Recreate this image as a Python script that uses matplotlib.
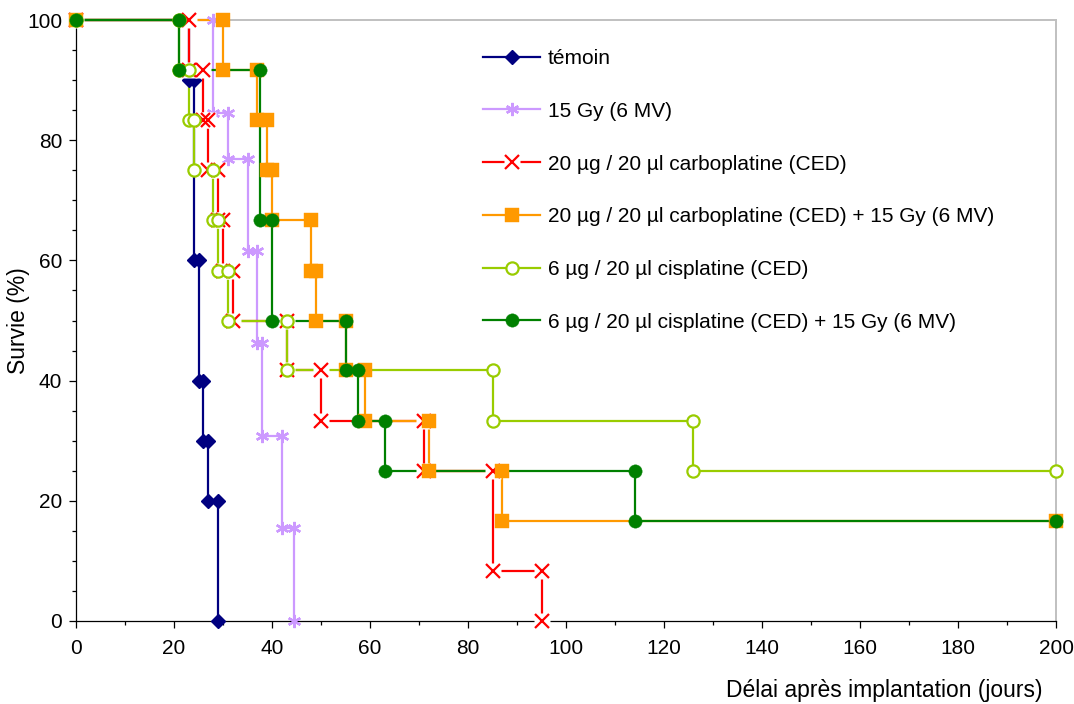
import matplotlib
matplotlib.use("Agg")
import matplotlib.pyplot as plt
from matplotlib.lines import Line2D
from matplotlib.legend_handler import HandlerTuple
from matplotlib.ticker import MultipleLocator

plt.rcParams['font.family'] = ['Liberation Sans', 'DejaVu Sans']

# ---- data (Excel-style step points: each marker is a data point) ----
temoin_x = [0, 23, 23, 24, 24, 25, 25, 26, 26, 27, 27, 29, 29]
temoin_y = [100, 100, 90, 90, 60, 60, 40, 40, 30, 30, 20, 20, 0]

gy15_x = [0, 28, 28, 31, 31, 35, 35, 37, 37, 38, 38, 42, 42, 44.5, 44.5]
gy15_y = [100, 100, 84.6, 84.6, 76.9, 76.9, 61.5, 61.5, 46.2, 46.2, 30.8, 30.8, 15.4, 15.4, 0]

carbo_x = [0, 23, 23, 26, 26, 27, 27, 29, 29, 30, 30, 32, 32, 43, 43, 50, 50, 71, 71, 85, 85, 95, 95]
carbo_y = [100, 100, 91.7, 91.7, 83.3, 83.3, 75, 75, 66.7, 66.7, 58.3, 58.3, 50, 50,
           41.7, 41.7, 33.3, 33.3, 25, 25, 8.3, 8.3, 0]

carbo_rt_x = [0, 30, 30, 37, 37, 39, 39, 40, 40, 48, 48, 49, 49, 55, 55, 59, 59, 72, 72, 87, 87, 200]
carbo_rt_y = [100, 100, 91.7, 91.7, 83.3, 83.3, 75, 75, 66.7, 66.7, 58.3, 58.3, 50, 50,
              41.7, 41.7, 33.3, 33.3, 25, 25, 16.7, 16.7]

cis_x = [0, 21, 21, 23, 23, 24, 24, 28, 28, 29, 29, 31, 31, 43, 43, 85, 85, 126, 126, 200]
cis_y = [100, 100, 91.7, 91.7, 83.3, 83.3, 75, 75, 66.7, 66.7, 58.3, 58.3, 50, 50,
         41.7, 41.7, 33.3, 33.3, 25, 25]

cis_rt_x = [0, 21, 21, 37.5, 37.5, 40, 40, 55, 55, 57.5, 57.5, 63, 63, 114, 114, 200]
cis_rt_y = [100, 100, 91.7, 91.7, 66.7, 66.7, 50, 50, 41.7, 41.7, 33.3, 33.3, 25, 25, 16.7, 16.7]

labels = ["témoin",
          "15 Gy (6 MV)",
          "20 µg / 20 µl carboplatine (CED)",
          "20 µg / 20 µl carboplatine (CED) + 15 Gy (6 MV)",
          "6 µg / 20 µl cisplatine (CED)",
          "6 µg / 20 µl cisplatine (CED) + 15 Gy (6 MV)"]

x_ticks = [0, 20, 40, 60, 80, 100, 120, 140, 160, 180, 200]
y_ticks = [0, 20, 40, 60, 80, 100]

# ---- styles ----
LW = 1.6
styles = [
    dict(color='#000080', marker='D', ms=7.0, mfc='#000080', mec='#000080', mew=1.0),
    dict(color='#CC99FF', marker=(6, 2, 0), ms=9.5, mfc='#CC99FF', mec='#CC99FF', mew=1.7),
    dict(color='#FF0000', marker='x', ms=9.5, mfc='#FF0000', mec='#FF0000', mew=1.6),
    dict(color='#FF9900', marker='s', ms=9.6, mfc='#FF9900', mec='#FF9900', mew=0.3),
    dict(color='#99CC00', marker='o', ms=8.8, mfc='white', mec='#99CC00', mew=1.6),
    dict(color='#008000', marker='o', ms=9.6, mfc='#008000', mec='#008000', mew=0.3),
]
series = [(temoin_x, temoin_y), (gy15_x, gy15_y), (carbo_x, carbo_y),
          (carbo_rt_x, carbo_rt_y), (cis_x, cis_y), (cis_rt_x, cis_rt_y)]

fig = plt.figure(figsize=(10.74, 7.04), dpi=100)
ax = fig.add_axes([76 / 1074, 1 - 621 / 704, 980 / 1074, 601 / 704])

# lines first (all series), then markers (all series) - Excel drawing order
for i, ((xs, ys), st) in enumerate(zip(series, styles)):
    ax.plot(xs, ys, color=st['color'], lw=LW, zorder=3 + i * 0.01, clip_on=False)
for i, ((xs, ys), st) in enumerate(zip(series, styles)):
    if st['marker'] == 'x':
        ax.plot(xs, ys, ls='none', marker='s', ms=12, mfc='white', mec='none',
                zorder=4 + i * 0.01 - 0.005, clip_on=False)
    ax.plot(xs, ys, ls='none', marker=st['marker'], ms=st['ms'], mfc=st['mfc'],
            mec=st['mec'], mew=st['mew'], zorder=4 + i * 0.01, clip_on=False)

ax.set_xlim(0, 200)
ax.set_ylim(0, 100)
ax.set_xticks(x_ticks)
ax.set_yticks(y_ticks)
ax.xaxis.set_minor_locator(MultipleLocator(10))
ax.yaxis.set_minor_locator(MultipleLocator(5))
ax.tick_params(which='major', direction='out', length=5, width=0.9, labelsize=15,
               pad=5, color='black')
ax.tick_params(which='minor', direction='out', length=3, width=0.9, color='black')
ax.tick_params(axis='x', which='major', pad=8)

for s in ['left', 'bottom']:
    ax.spines[s].set_color('black')
    ax.spines[s].set_linewidth(0.9)
for s in ['top', 'right']:
    ax.spines[s].set_color('#C0C0C0')
    ax.spines[s].set_linewidth(1.4)
    ax.spines[s].set_zorder(1)

ax.set_xlabel("Délai après implantation (jours)", fontsize=16.5, ha='right', va='center')
ax.xaxis.set_label_coords((1042 - 76) / 980, (621 - 691) / 601)
ax.set_ylabel("Survie (%)", fontsize=16.5, va='center')
ax.yaxis.set_label_coords((19 - 76) / 980, (621 - 321) / 601)

# legend
handles = []
for st in styles:
    if st['marker'] == 'x':
        bg = Line2D([], [], color=st['color'], lw=LW, marker='s', ms=12, mfc='white', mec='none')
        fg = Line2D([], [], ls='none', marker='x', ms=st['ms'], mec=st['mec'], mew=st['mew'])
        handles.append((bg, fg))
    else:
        handles.append(Line2D([], [], color=st['color'], lw=LW, marker=st['marker'], ms=st['ms'],
                              mfc=st['mfc'], mec=st['mec'], mew=st['mew']))
leg = ax.legend(handles, labels, loc='upper left',
                bbox_to_anchor=((483 - 76) / 980, (621 - 49) / 601),
                frameon=False, fontsize=15, numpoints=1, handlelength=2.75,
                handletextpad=0.35, labelspacing=1.62, borderpad=0, borderaxespad=0,
                handler_map={tuple: HandlerTuple(ndivide=1)})

fig.savefig("out.png", dpi=100)
